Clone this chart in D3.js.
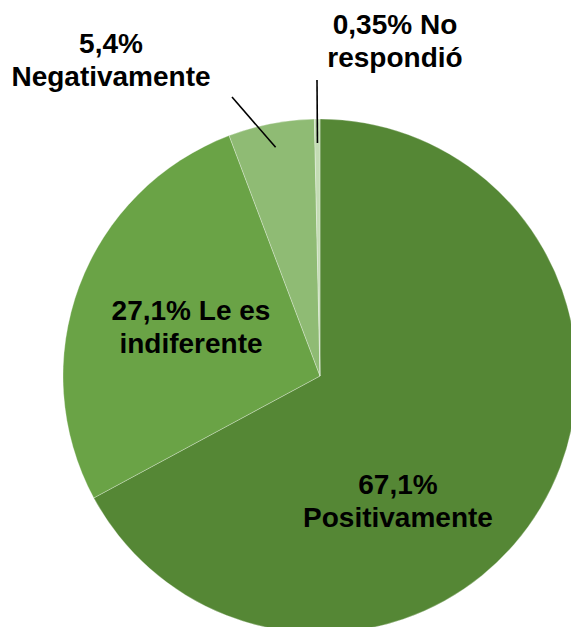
<!DOCTYPE html>
<html>
<head>
<meta charset="utf-8">
<script src="https://cdn.jsdelivr.net/npm/d3@7"></script>
<style>
  body { margin: 0; background: #fff; }
  .lbl { font-family: "Liberation Sans", Arial, sans-serif; font-weight: bold; font-size: 28px; fill: #000; }
</style>
</head>
<body>
<div class="chart"></div>
<script>
// data
var categories = ["Positivamente", "Le es indiferente", "Negativamente", "No respondió"];
var values = [67.1, 27.1, 5.4, 0.35];
var labelLines = [
  ["67,1%", "Positivamente"],
  ["27,1% Le es", "indiferente"],
  ["5,4%", "Negativamente"],
  ["0,35% No", "respondió"]
];

var svgWidth = 571;
var svgHeight = 627;
var radius = 257;
var cx = 320, cy = 376;

var colors = ["#558735", "#6aa346", "#8fbb74", "#c3dcb4"];

// label layout (center x, first baseline y) and leader line start (null = inside)
var labelPos = [[398, 494], [191, 320], [111, 53], [395, 34]];
var leaderStart = [null, null, [232, 97], [317, 80]];
var lineHeight = 33;

var svg = d3.select(".chart")
  .append("svg")
  .attr("width", svgWidth)
  .attr("height", svgHeight);

var pieGroup = svg.append("g")
  .attr("transform", `translate(${cx}, ${cy})`);

var pie = d3.pie().sort(null).value(d => d);
var arcs = pie(values);

var arc = d3.arc().innerRadius(0).outerRadius(radius);
var leaderArc = d3.arc().innerRadius(233).outerRadius(233);

pieGroup.selectAll("path")
  .data(arcs)
  .enter()
  .append("path")
  .attr("d", arc)
  .attr("fill", (d, i) => colors[i])
  .attr("stroke", "#fff")
  .attr("stroke-width", 0.3);

// leader lines for the small slices
arcs.forEach(function (d, i) {
  if (!leaderStart[i]) return;
  var end = leaderArc.centroid(d);
  svg.append("line")
    .attr("x1", leaderStart[i][0])
    .attr("y1", leaderStart[i][1])
    .attr("x2", cx + end[0])
    .attr("y2", cy + end[1])
    .attr("stroke", "#000")
    .attr("stroke-width", 1.6);
});

// labels
labelLines.forEach(function (lines, i) {
  var t = svg.append("text")
    .attr("class", "lbl")
    .attr("text-anchor", "middle");
  lines.forEach(function (s, k) {
    t.append("tspan")
      .attr("x", labelPos[i][0])
      .attr("y", labelPos[i][1] + k * lineHeight)
      .text(s);
  });
});
</script>
</body>
</html>
